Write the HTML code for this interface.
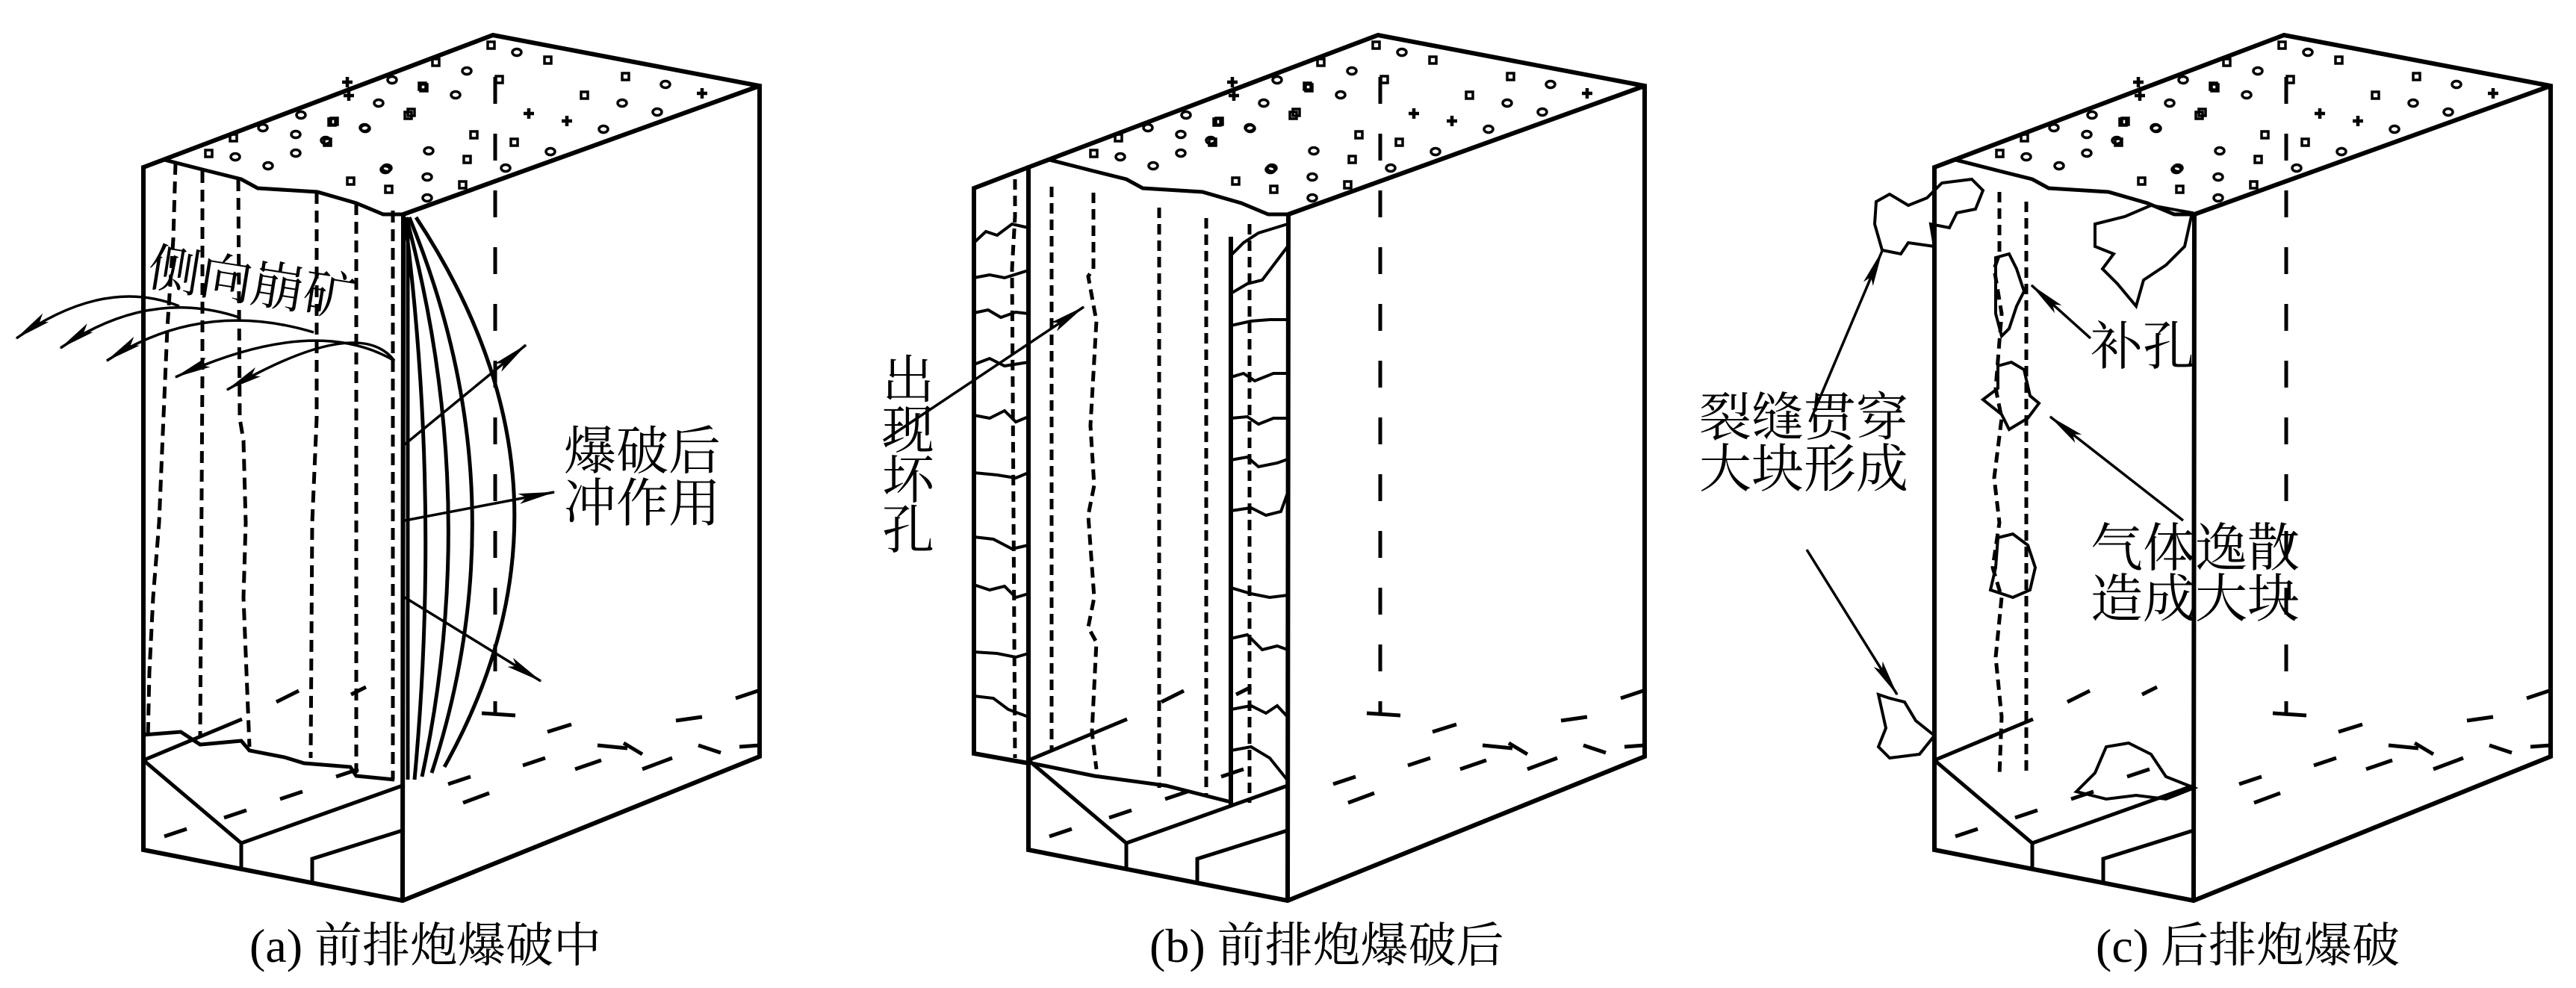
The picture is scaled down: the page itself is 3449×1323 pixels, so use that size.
<!DOCTYPE html>
<html><head><meta charset="utf-8"><style>
html,body{margin:0;padding:0;background:#fff;}
svg{display:block}
text{font-family:"Liberation Serif","Noto Serif CJK SC","Noto Sans CJK SC",serif;fill:#000;}
</style></head><body>
<svg width="3449" height="1323" viewBox="0 0 3449 1323" xmlns="http://www.w3.org/2000/svg" font-family="Liberation Serif, Noto Serif CJK SC, serif">
<defs>
<marker id="ah" viewBox="0 0 50 18" refX="48" refY="9" markerWidth="50" markerHeight="18" markerUnits="userSpaceOnUse" orient="auto">
<path d="M0,2 L50,9 L0,16 L10,9 Z" fill="#000"/></marker>
<rect id="sq" x="-4" y="-4" width="9" height="9" fill="none" stroke="#000" stroke-width="3.5"/>
<ellipse id="ci" cx="0" cy="0" rx="6" ry="4.5" fill="none" stroke="#000" stroke-width="3.5"/>
<path id="pl" d="M-7,0 H7 M0,-7 V7" stroke="#000" stroke-width="4.5"/>
<g id="box" fill="none" stroke="#000">
 <path d="M192,224 L660,47 L1017,115 L1017,1013 L539,1206 L192,1138 Z" stroke-width="6"/>
 <path d="M1017,115 L540,287 L539,1206" stroke-width="6"/>
 <path d="M192,224 L220,214 L279,229 L323,240 L345,252 L425,257 L477,272 L513,287 L540,287" stroke-width="5"/>
 <path d="M663,103 L663,954" stroke-width="5" stroke-dasharray="36 40"/>
 <path d="M645,955 L690,958" stroke-width="5"/>
 <path d="M192,1018 L323,1129 L539,1052 M323,1129 L323,1163 M418,1180 L418,1150 L539,1112 M192,1018 L324,963" stroke-width="5"/>
 <g stroke-width="5">
  <path d="M733,980 L765,970 M800,998 L840,1002 M835,995 L860,1010 M905,965 L940,960 M935,998 L965,1008 M985,935 L1015,925 M700,1025 L730,1015 M770,1030 L805,1018 M620,1075 L655,1062 M600,1050 L630,1040 M860,1030 L900,1015 M990,1000 L1017,998"/>
  <path d="M220,1120 L250,1110 M300,1095 L330,1085 M375,1070 L405,1060 M450,1040 L480,1030 M470,930 L490,920 M370,940 L400,925"/>
 </g>
 <g>
  <use href="#sq" x="657" y="60"/><use href="#ci" x="692" y="70"/><use href="#sq" x="733" y="80"/><use href="#sq" x="583" y="83"/>
  <use href="#ci" x="525" y="107"/><use href="#ci" x="625" y="95"/><use href="#sq" x="668" y="106"/><use href="#sq" x="567" y="117"/>
  <use href="#pl" x="467" y="128"/><use href="#ci" x="507" y="138"/><use href="#ci" x="610" y="127"/><use href="#sq" x="550" y="150"/>
  <use href="#sq" x="447" y="162"/><use href="#ci" x="489" y="172"/><use href="#sq" x="438" y="190"/><use href="#sq" x="634" y="180"/>
  <use href="#pl" x="708" y="152"/><use href="#pl" x="759" y="162"/><use href="#sq" x="782" y="127"/><use href="#sq" x="837" y="102"/>
  <use href="#ci" x="833" y="138"/><use href="#ci" x="891" y="113"/><use href="#pl" x="940" y="125"/><use href="#ci" x="880" y="150"/>
  <use href="#ci" x="808" y="173"/><use href="#sq" x="688" y="190"/><use href="#ci" x="737" y="203"/><use href="#ci" x="677" y="225"/>
  <use href="#ci" x="574" y="202"/><use href="#sq" x="625" y="213"/><use href="#ci" x="518" y="225"/><use href="#ci" x="572" y="237"/>
  <use href="#sq" x="469" y="242"/><use href="#sq" x="520" y="253"/><use href="#sq" x="619" y="247"/><use href="#ci" x="572" y="265"/>
  <use href="#sq" x="279" y="205"/><use href="#ci" x="315" y="210"/><use href="#sq" x="312" y="184"/><use href="#ci" x="352" y="171"/>
  <use href="#ci" x="396" y="180"/><use href="#ci" x="359" y="222"/><use href="#ci" x="396" y="205"/><use href="#ci" x="403" y="154"/>
  <use href="#sq" x="444" y="163"/><use href="#ci" x="436" y="188"/><use href="#ci" x="488" y="171"/><use href="#pl" x="465" y="110"/>
  <use href="#sq" x="565" y="115"/><use href="#sq" x="546" y="154"/><use href="#ci" x="516" y="227"/>
 </g>
</g>
</defs>

<!-- Panel a -->
<use href="#box"/>
<g fill="none" stroke="#000">
 <g stroke-width="5" stroke-dasharray="16 9">
  <path d="M235,218 L232,320 L224,440 L218,580 L213,700 L205,800 L200,900 L198,990"/>
  <path d="M271,229 L271,500 L268,985"/>
  <path d="M319,240 L321,560 L326,590 L329,700 L326,800 L334,1000"/>
  <path d="M424,257 L424,560 L418,700 L416,1015"/>
  <path d="M477,272 L477,1035"/>
  <path d="M526,282 L526,1044"/>
 </g>
 <path d="M192,984 L242,980 L268,997 L323,992 L334,1005 L381,1014 L407,1022 L469,1027 L477,1039 L528,1044" stroke-width="5"/>
 <path d="M546,291 L546,1044" stroke-width="5"/>
 <g stroke-width="5">
  <path d="M542,291 Q590,668 555,1044"/>
  <path d="M544,291 Q645,668 565,1040"/>
  <path d="M548,291 Q700,660 578,1035"/>
  <path d="M557,291 Q800,660 595,1027"/>
 </g>
 <g stroke-width="3.5" marker-end="url(#ah)">
  <path d="M542,595 L704,462"/>
  <path d="M542,697 L742,659"/>
  <path d="M542,800 L724,912"/>
  <path d="M240,410 Q140,370 22,453"/>
  <path d="M320,425 Q200,385 81,466"/>
  <path d="M420,445 Q270,400 143,483"/>
  <path d="M528,483 Q420,420 235,505"/>
  <path d="M528,483 Q480,420 304,522"/>
 </g>
</g>
<text x="198" y="402" font-size="70" transform="rotate(9 330 375)">侧向崩矿</text>
<text x="755" y="628" font-size="70">爆破后</text>
<text x="755" y="698" font-size="70">冲作用</text>
<text x="334" y="1288" font-size="64">(a) 前排炮爆破中</text>

<!-- Panel b -->
<g transform="translate(1185,0)">
 <use href="#box"/>
 <g fill="none" stroke="#000">
  <path d="M192,224 L119,252 L119,1009 L192,1022" stroke-width="6"/>
  <g stroke-width="4">
   <path d="M119,325 L135,310 L150,315 L170,300 L192,305"/>
   <path d="M119,372 L140,368 L160,372 L192,362"/>
   <path d="M119,419 L138,415 L155,425 L175,418 L192,420"/>
   <path d="M119,488 L140,480 L160,490 L192,485"/>
   <path d="M119,556 L140,560 L160,550 L175,565 L192,558"/>
   <path d="M119,633 L150,636 L175,640 L192,633"/>
   <path d="M119,719 L145,722 L170,735 L192,730"/>
   <path d="M119,783 L140,790 L160,785 L175,800 L192,795"/>
   <path d="M119,873 L150,875 L175,880 L192,875"/>
   <path d="M119,932 L145,935 L165,950 L192,960"/>
   <path d="M463,342 L480,325 L500,312 L539,300"/>
   <path d="M463,393 L485,380 L505,375 L539,330"/>
   <path d="M463,436 L490,430 L515,428 L539,428"/>
   <path d="M463,505 L480,500 L495,510 L520,500 L539,500"/>
   <path d="M463,560 L485,558 L500,568 L520,560 L539,560"/>
   <path d="M463,616 L485,612 L500,625 L525,620 L539,615"/>
   <path d="M463,684 L490,680 L510,690 L530,685 L539,660"/>
   <path d="M463,787 L490,795 L515,800 L539,797"/>
   <path d="M463,855 L485,850 L505,870 L525,865 L539,870"/>
   <path d="M463,950 L490,945 L510,955 L525,945 L539,960"/>
   <path d="M463,1005 L490,1000 L515,1015 L539,1045"/>
  </g>
  <g stroke-width="5" stroke-dasharray="14 8">
   <path d="M174,240 L174,290 L170,360 L174,1015"/>
   <path d="M223,250 L223,1005"/>
   <path d="M279,258 L279,360 L272,370 L283,430 L275,570 L280,650 L272,690 L280,800 L272,840 L283,860 L277,980 L283,1030"/>
   <path d="M367,278 L367,1055"/>
   <path d="M430,292 L430,1065"/>
   <path d="M488,300 L488,1075"/>
  </g>
  <path d="M463,317 L463,1078" stroke-width="6"/>
  <path d="M196,1022 L280,1039 L376,1052 L463,1074" stroke-width="5"/>
  <path d="M-2,590 L266,411" stroke-width="3.5" marker-end="url(#ah)"/>
 </g>
 <text x="-4" y="533" font-size="70">出</text>
 <text x="-4" y="600" font-size="70">现</text>
 <text x="-4" y="667" font-size="70">坏</text>
 <text x="-4" y="734" font-size="70">孔</text>
</g>
<text x="1539" y="1288" font-size="64">(b) 前排炮爆破后</text>

<!-- Panel c -->
<g transform="translate(2398,0)">
 <use href="#box"/>
</g>
<g fill="none" stroke="#000">
 <g stroke-width="5" stroke-dasharray="14 8">
  <path d="M2677,257 L2677,340 L2670,360 L2680,420 L2672,520 L2680,560 L2670,640 L2677,700 L2668,760 L2680,800 L2672,880 L2680,960 L2677,1039"/>
  <path d="M2713,270 L2713,1039"/>
 </g>
 <g stroke-width="4">
  <path d="M2512,270 L2530,260 L2555,275 L2580,265 L2600,245 L2640,240 L2655,255 L2645,280 L2620,285 L2610,305 L2585,300 L2590,330 L2555,325 L2545,340 L2520,335 L2510,300 Z"/>
  <path d="M2672,345 L2690,340 L2700,360 L2710,390 L2700,410 L2690,440 L2680,450 L2672,420 Z"/>
  <path d="M2675,490 L2693,485 L2710,495 L2718,530 L2730,540 L2715,560 L2690,575 L2680,555 L2655,535 L2675,520 Z"/>
  <path d="M2675,720 L2695,715 L2715,730 L2725,760 L2718,790 L2695,800 L2665,790 L2672,760 Z"/>
  <path d="M2805,300 L2845,290 L2880,275 L2935,285 L2925,330 L2900,355 L2870,375 L2860,410 L2835,380 L2815,360 L2830,340 L2805,330 Z"/>
  <path d="M2515,930 L2530,935 L2550,940 L2565,965 L2590,985 L2570,1010 L2530,1015 L2515,1000 L2525,975 Z"/>
  <path d="M2780,1060 L2805,1035 L2820,1000 L2850,995 L2880,1010 L2900,1040 L2938,1055 L2900,1070 L2860,1065 L2820,1070 Z"/>
 </g>
 <g stroke-width="3.5" marker-end="url(#ah)">
  <path d="M2423,565 L2520,336"/>
  <path d="M2419,736 L2540,930"/>
  <path d="M2799,453 L2720,382"/>
  <path d="M2923,697 L2745,558"/>
 </g>
</g>
<text x="2275" y="583" font-size="70">裂缝贯穿</text>
<text x="2275" y="652" font-size="70">大块形成</text>
<text x="2799" y="488" font-size="70">补孔</text>
<text x="2799" y="758" font-size="70">气体逸散</text>
<text x="2799" y="826" font-size="70">造成大块</text>
<text x="2806" y="1288" font-size="64">(c) 后排炮爆破</text>
</svg>
</body></html>
